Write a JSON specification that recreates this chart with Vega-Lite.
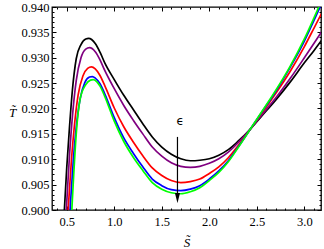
{
  "$schema": "https://vega.github.io/schema/vega-lite/v6.json",
  "width": 269,
  "height": 203,
  "autosize": {"type": "none"},
  "padding": {"left": 52, "top": 7, "right": 3, "bottom": 39},
  "config": {
    "view": {"stroke": "black", "strokeWidth": 1.3},
    "axis": {"grid": false, "domain": false, "tickColor": "black", "tickWidth": 1, "labelColor": "black", "titleColor": "black"}
  },
  "resolve": {"axis": {"x": "independent", "y": "independent"}},
  "layer": [
    {
      "data": {"values": [
        {"s":0.46,"t":0.8945,"c":"k"},{"s":0.475,"t":0.9000,"c":"k"},{"s":0.50,"t":0.9083,"c":"k"},{"s":0.53,"t":0.9166,"c":"k"},{"s":0.56,"t":0.9237,"c":"k"},{"s":0.60,"t":0.9298,"c":"k"},{"s":0.65,"t":0.9326,"c":"k"},{"s":0.70,"t":0.9337,"c":"k"},{"s":0.73,"t":0.9338,"c":"k"},{"s":0.80,"t":0.9328,"c":"k"},{"s":0.85,"t":0.9311,"c":"k"},{"s":0.90,"t":0.9290,"c":"k"},{"s":1.00,"t":0.9257,"c":"k"},{"s":1.10,"t":0.9226,"c":"k"},{"s":1.20,"t":0.9198,"c":"k"},{"s":1.30,"t":0.9170,"c":"k"},{"s":1.40,"t":0.9144,"c":"k"},{"s":1.50,"t":0.9124,"c":"k"},{"s":1.60,"t":0.9110,"c":"k"},{"s":1.70,"t":0.9101,"c":"k"},{"s":1.80,"t":0.9097,"c":"k"},{"s":1.90,"t":0.9098,"c":"k"},{"s":2.00,"t":0.9101,"c":"k"},{"s":2.10,"t":0.9108,"c":"k"},{"s":2.20,"t":0.9119,"c":"k"},{"s":2.30,"t":0.9135,"c":"k"},{"s":2.42,"t":0.9157,"c":"k"},{"s":2.55,"t":0.9185,"c":"k"},{"s":2.70,"t":0.9217,"c":"k"},{"s":2.85,"t":0.9252,"c":"k"},{"s":3.00,"t":0.9290,"c":"k"},{"s":3.10,"t":0.9314,"c":"k"},{"s":3.18,"t":0.9334,"c":"k"},
        {"s":0.48,"t":0.8950,"c":"p"},{"s":0.50,"t":0.9015,"c":"p"},{"s":0.53,"t":0.9110,"c":"p"},{"s":0.56,"t":0.9185,"c":"p"},{"s":0.60,"t":0.9255,"c":"p"},{"s":0.65,"t":0.9300,"c":"p"},{"s":0.70,"t":0.9317,"c":"p"},{"s":0.74,"t":0.9320,"c":"p"},{"s":0.80,"t":0.9312,"c":"p"},{"s":0.85,"t":0.9296,"c":"p"},{"s":0.90,"t":0.9275,"c":"p"},{"s":1.00,"t":0.9239,"c":"p"},{"s":1.10,"t":0.9206,"c":"p"},{"s":1.20,"t":0.9177,"c":"p"},{"s":1.30,"t":0.9150,"c":"p"},{"s":1.40,"t":0.9124,"c":"p"},{"s":1.50,"t":0.9106,"c":"p"},{"s":1.60,"t":0.9093,"c":"p"},{"s":1.70,"t":0.9086,"c":"p"},{"s":1.80,"t":0.9084,"c":"p"},{"s":1.90,"t":0.9086,"c":"p"},{"s":2.00,"t":0.9092,"c":"p"},{"s":2.10,"t":0.9101,"c":"p"},{"s":2.20,"t":0.9114,"c":"p"},{"s":2.30,"t":0.9132,"c":"p"},{"s":2.42,"t":0.9157,"c":"p"},{"s":2.55,"t":0.9187,"c":"p"},{"s":2.70,"t":0.9221,"c":"p"},{"s":2.85,"t":0.9259,"c":"p"},{"s":3.00,"t":0.9300,"c":"p"},{"s":3.10,"t":0.9328,"c":"p"},{"s":3.18,"t":0.9351,"c":"p"},
        {"s":0.50,"t":0.8950,"c":"r"},{"s":0.52,"t":0.9015,"c":"r"},{"s":0.55,"t":0.9100,"c":"r"},{"s":0.58,"t":0.9165,"c":"r"},{"s":0.62,"t":0.9227,"c":"r"},{"s":0.67,"t":0.9264,"c":"r"},{"s":0.72,"t":0.9279,"c":"r"},{"s":0.76,"t":0.9282,"c":"r"},{"s":0.80,"t":0.9278,"c":"r"},{"s":0.85,"t":0.9265,"c":"r"},{"s":0.90,"t":0.9245,"c":"r"},{"s":1.00,"t":0.9201,"c":"r"},{"s":1.10,"t":0.9164,"c":"r"},{"s":1.20,"t":0.9134,"c":"r"},{"s":1.30,"t":0.9107,"c":"r"},{"s":1.40,"t":0.9083,"c":"r"},{"s":1.50,"t":0.9068,"c":"r"},{"s":1.60,"t":0.9058,"c":"r"},{"s":1.70,"t":0.9054,"c":"r"},{"s":1.80,"t":0.9056,"c":"r"},{"s":1.90,"t":0.9061,"c":"r"},{"s":2.00,"t":0.9072,"c":"r"},{"s":2.10,"t":0.9085,"c":"r"},{"s":2.20,"t":0.9103,"c":"r"},{"s":2.30,"t":0.9126,"c":"r"},{"s":2.42,"t":0.9156,"c":"r"},{"s":2.55,"t":0.9190,"c":"r"},{"s":2.70,"t":0.9230,"c":"r"},{"s":2.85,"t":0.9273,"c":"r"},{"s":3.00,"t":0.9322,"c":"r"},{"s":3.10,"t":0.9358,"c":"r"},{"s":3.18,"t":0.9387,"c":"r"},
        {"s":0.52,"t":0.8950,"c":"b"},{"s":0.54,"t":0.9015,"c":"b"},{"s":0.57,"t":0.9100,"c":"b"},{"s":0.60,"t":0.9163,"c":"b"},{"s":0.64,"t":0.9218,"c":"b"},{"s":0.69,"t":0.9251,"c":"b"},{"s":0.74,"t":0.9262,"c":"b"},{"s":0.77,"t":0.9263,"c":"b"},{"s":0.80,"t":0.9260,"c":"b"},{"s":0.85,"t":0.9249,"c":"b"},{"s":0.90,"t":0.9229,"c":"b"},{"s":1.00,"t":0.9182,"c":"b"},{"s":1.10,"t":0.9142,"c":"b"},{"s":1.20,"t":0.9112,"c":"b"},{"s":1.30,"t":0.9085,"c":"b"},{"s":1.40,"t":0.9061,"c":"b"},{"s":1.50,"t":0.9048,"c":"b"},{"s":1.60,"t":0.9040,"c":"b"},{"s":1.70,"t":0.9038,"c":"b"},{"s":1.80,"t":0.9041,"c":"b"},{"s":1.90,"t":0.9048,"c":"b"},{"s":2.00,"t":0.9061,"c":"b"},{"s":2.10,"t":0.9077,"c":"b"},{"s":2.20,"t":0.9097,"c":"b"},{"s":2.30,"t":0.9123,"c":"b"},{"s":2.42,"t":0.9156,"c":"b"},{"s":2.55,"t":0.9192,"c":"b"},{"s":2.70,"t":0.9234,"c":"b"},{"s":2.85,"t":0.9281,"c":"b"},{"s":3.00,"t":0.9333,"c":"b"},{"s":3.10,"t":0.9373,"c":"b"},{"s":3.18,"t":0.9406,"c":"b"},
        {"s":0.54,"t":0.8950,"c":"g"},{"s":0.555,"t":0.9005,"c":"g"},{"s":0.575,"t":0.9075,"c":"g"},{"s":0.60,"t":0.9150,"c":"g"},{"s":0.64,"t":0.9218,"c":"g"},{"s":0.70,"t":0.9247,"c":"g"},{"s":0.75,"t":0.9256,"c":"g"},{"s":0.78,"t":0.9257,"c":"g"},{"s":0.82,"t":0.9252,"c":"g"},{"s":0.85,"t":0.9244,"c":"g"},{"s":0.90,"t":0.9224,"c":"g"},{"s":1.00,"t":0.9175,"c":"g"},{"s":1.10,"t":0.9135,"c":"g"},{"s":1.20,"t":0.9104,"c":"g"},{"s":1.30,"t":0.9078,"c":"g"},{"s":1.40,"t":0.9054,"c":"g"},{"s":1.50,"t":0.9041,"c":"g"},{"s":1.60,"t":0.9034,"c":"g"},{"s":1.70,"t":0.9032,"c":"g"},{"s":1.80,"t":0.9036,"c":"g"},{"s":1.90,"t":0.9044,"c":"g"},{"s":2.00,"t":0.9058,"c":"g"},{"s":2.10,"t":0.9074,"c":"g"},{"s":2.20,"t":0.9095,"c":"g"},{"s":2.30,"t":0.9122,"c":"g"},{"s":2.42,"t":0.9156,"c":"g"},{"s":2.55,"t":0.9193,"c":"g"},{"s":2.70,"t":0.9236,"c":"g"},{"s":2.85,"t":0.9283,"c":"g"},{"s":3.00,"t":0.9337,"c":"g"},{"s":3.10,"t":0.9378,"c":"g"},{"s":3.18,"t":0.9412,"c":"g"}
      ]},
      "mark": {"type": "line", "interpolate": "monotone", "strokeWidth": 1.7, "clip": true},
      "encoding": {
        "x": {"field": "s", "type": "quantitative", "scale": {"domain": [0.345, 3.175], "nice": false, "zero": false},
          "axis": {"orient": "bottom", "values": [0.5, 1.0, 1.5, 2.0, 2.5, 3.0], "format": ".1f", "ticks": false, "labelFont": "Times New Roman, Liberation Serif, serif", "labelFontSize": 12.5, "labelPadding": 5, "labelFlush": false,
            "title": "S\u0303", "titleFont": "Times New Roman, Liberation Serif, serif", "titleFontStyle": "italic", "titleFontWeight": "normal", "titleFontSize": 13, "titleY": 32, "titleBaseline": "middle"}},
        "y": {"field": "t", "type": "quantitative", "scale": {"domain": [0.9, 0.94], "nice": false, "zero": false},
          "axis": {"orient": "left", "values": [0.9, 0.905, 0.91, 0.915, 0.92, 0.925, 0.93, 0.935, 0.94], "format": ".3f", "ticks": false, "labelFont": "Times New Roman, Liberation Serif, serif", "labelFontSize": 12.5, "labelPadding": 3, "labelOverlap": false, "labelFlush": false,
            "title": "T\u0303", "titleFont": "Times New Roman, Liberation Serif, serif", "titleFontStyle": "italic", "titleFontWeight": "normal", "titleFontSize": 13, "titleAngle": 0, "titleX": -40, "titleY": 105, "titleAlign": "center", "titleBaseline": "middle"}},
        "color": {"field": "c", "type": "nominal", "scale": {"domain": ["k", "p", "r", "b", "g"], "range": ["#000000", "#800080", "#ff0000", "#0000ff", "#00ff00"]}, "legend": null}
      }
    },
    {
      "data": {"values": [{"s": 1.665, "t": 0.9144, "t2": 0.9026}]},
      "mark": {"type": "rule", "color": "black", "strokeWidth": 1.2},
      "encoding": {
        "x": {"field": "s", "type": "quantitative", "scale": {"domain": [0.345, 3.175], "nice": false, "zero": false},
          "axis": {"orient": "bottom", "values": [0.5, 1.0, 1.5, 2.0, 2.5, 3.0], "labels": false, "title": null, "tickSize": -4}},
        "y": {"field": "t", "type": "quantitative", "scale": {"domain": [0.9, 0.94], "nice": false, "zero": false},
          "axis": {"orient": "left", "values": [0.9, 0.905, 0.91, 0.915, 0.92, 0.925, 0.93, 0.935, 0.94], "labels": false, "title": null, "tickSize": -4}},
        "y2": {"field": "t2"}
      }
    },
    {
      "data": {"values": [{"s": 1.665, "t": 0.90237}]},
      "mark": {"type": "point", "shape": "M-0.5,-1L0.5,-1L0,1Z", "size": 100, "filled": true, "color": "black", "opacity": 1},
      "encoding": {
        "x": {"field": "s", "type": "quantitative", "scale": {"domain": [0.345, 3.175], "nice": false, "zero": false},
          "axis": {"orient": "top", "values": [0.5, 1.0, 1.5, 2.0, 2.5, 3.0], "labels": false, "title": null, "tickSize": -4}},
        "y": {"field": "t", "type": "quantitative", "scale": {"domain": [0.9, 0.94], "nice": false, "zero": false},
          "axis": {"orient": "right", "values": [0.9, 0.905, 0.91, 0.915, 0.92, 0.925, 0.93, 0.935, 0.94], "labels": false, "title": null, "tickSize": -4}}
      }
    },
    {
      "data": {"values": [{"s": 1.694, "t": 0.9175, "label": "\u03f5"}]},
      "mark": {"type": "text", "font": "DejaVu Sans", "fontSize": 12, "color": "black", "baseline": "middle", "align": "center"},
      "encoding": {
        "x": {"field": "s", "type": "quantitative", "scale": {"domain": [0.345, 3.175], "nice": false, "zero": false},
          "axis": {"orient": "bottom", "values": [0.4,0.6,0.7,0.8,0.9,1.1,1.2,1.3,1.4,1.6,1.7,1.8,1.9,2.1,2.2,2.3,2.4,2.6,2.7,2.8,2.9,3.1], "labels": false, "title": null, "tickSize": -2}},
        "y": {"field": "t", "type": "quantitative", "scale": {"domain": [0.9, 0.94], "nice": false, "zero": false},
          "axis": {"orient": "left", "values": [0.901,0.902,0.903,0.904,0.906,0.907,0.908,0.909,0.911,0.912,0.913,0.914,0.916,0.917,0.918,0.919,0.921,0.922,0.923,0.924,0.926,0.927,0.928,0.929,0.931,0.932,0.933,0.934,0.936,0.937,0.938,0.939], "labels": false, "title": null, "tickSize": -2}},
        "text": {"field": "label"}
      }
    },
    {
      "data": {"values": [{"s": 1.694, "t": 0.9175, "label": ""}]},
      "mark": {"type": "text", "fontSize": 1, "opacity": 0},
      "encoding": {
        "x": {"field": "s", "type": "quantitative", "scale": {"domain": [0.345, 3.175], "nice": false, "zero": false},
          "axis": {"orient": "top", "values": [0.4,0.6,0.7,0.8,0.9,1.1,1.2,1.3,1.4,1.6,1.7,1.8,1.9,2.1,2.2,2.3,2.4,2.6,2.7,2.8,2.9,3.1], "labels": false, "title": null, "tickSize": -2}},
        "y": {"field": "t", "type": "quantitative", "scale": {"domain": [0.9, 0.94], "nice": false, "zero": false},
          "axis": {"orient": "right", "values": [0.901,0.902,0.903,0.904,0.906,0.907,0.908,0.909,0.911,0.912,0.913,0.914,0.916,0.917,0.918,0.919,0.921,0.922,0.923,0.924,0.926,0.927,0.928,0.929,0.931,0.932,0.933,0.934,0.936,0.937,0.938,0.939], "labels": false, "title": null, "tickSize": -2}},
        "text": {"field": "label"}
      }
    }
  ]
}
